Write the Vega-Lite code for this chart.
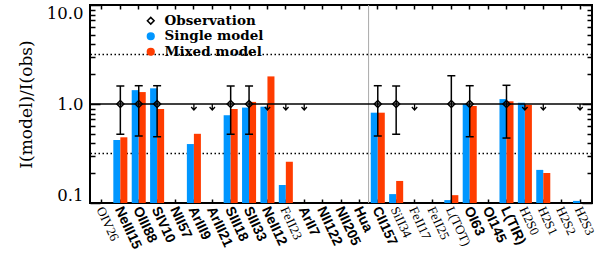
{
  "$schema": "https://vega.github.io/schema/vega-lite/v6.json",
  "width": 502,
  "height": 198,
  "autosize": {"type": "none"},
  "padding": {"left": 90, "top": 5, "right": 7, "bottom": 69},
  "background": "white",
  "datasets": {
    "bars": [
      {"line": "NeIII15", "series": "Single model", "ratio": 0.433},
      {"line": "NeIII15", "series": "Mixed model", "ratio": 0.461},
      {"line": "OIII88", "series": "Single model", "ratio": 1.38},
      {"line": "OIII88", "series": "Mixed model", "ratio": 1.32},
      {"line": "SIV10", "series": "Single model", "ratio": 1.44},
      {"line": "SIV10", "series": "Mixed model", "ratio": 0.89},
      {"line": "ArIII9", "series": "Single model", "ratio": 0.394},
      {"line": "ArIII9", "series": "Mixed model", "ratio": 0.5},
      {"line": "SIII18", "series": "Single model", "ratio": 0.77},
      {"line": "SIII18", "series": "Mixed model", "ratio": 0.89},
      {"line": "SIII33", "series": "Single model", "ratio": 0.92},
      {"line": "SIII33", "series": "Mixed model", "ratio": 1.05},
      {"line": "NeII12", "series": "Single model", "ratio": 0.94},
      {"line": "NeII12", "series": "Mixed model", "ratio": 1.9},
      {"line": "FeII23", "series": "Single model", "ratio": 0.152},
      {"line": "FeII23", "series": "Mixed model", "ratio": 0.261},
      {"line": "CII157", "series": "Single model", "ratio": 0.817},
      {"line": "CII157", "series": "Mixed model", "ratio": 0.817},
      {"line": "SiII34", "series": "Single model", "ratio": 0.123},
      {"line": "SiII34", "series": "Mixed model", "ratio": 0.167},
      {"line": "L(TOT)", "series": "Single model", "ratio": 0.107},
      {"line": "L(TOT)", "series": "Mixed model", "ratio": 0.12},
      {"line": "OI63", "series": "Single model", "ratio": 1.0},
      {"line": "OI63", "series": "Mixed model", "ratio": 0.955},
      {"line": "L(TIR)", "series": "Single model", "ratio": 1.12},
      {"line": "L(TIR)", "series": "Mixed model", "ratio": 1.065},
      {"line": "H2S0", "series": "Single model", "ratio": 1.03},
      {"line": "H2S0", "series": "Mixed model", "ratio": 0.977},
      {"line": "H2S1", "series": "Single model", "ratio": 0.216},
      {"line": "H2S1", "series": "Mixed model", "ratio": 0.201},
      {"line": "H2S3", "series": "Single model", "ratio": 0.105}
    ],
    "obs": [
      {"line": "NeIII15", "series": "Observation", "ratio": 1, "lo": 0.495, "hi": 1.52},
      {"line": "OIII88", "series": "Observation", "ratio": 1, "lo": 0.475, "hi": 1.53},
      {"line": "SIV10", "series": "Observation", "ratio": 1, "lo": 0.467, "hi": 1.53},
      {"line": "SIII18", "series": "Observation", "ratio": 1, "lo": 0.495, "hi": 1.52},
      {"line": "SIII33", "series": "Observation", "ratio": 1, "lo": 0.495, "hi": 1.52},
      {"line": "CII157", "series": "Observation", "ratio": 1, "lo": 0.475, "hi": 1.53},
      {"line": "SiII34", "series": "Observation", "ratio": 1, "lo": 0.495, "hi": 1.52},
      {"line": "L(TOT)", "series": "Observation", "ratio": 1, "lo": 0.05, "hi": 1.93},
      {"line": "OI63", "series": "Observation", "ratio": 1, "lo": 0.467, "hi": 1.53},
      {"line": "L(TIR)", "series": "Observation", "ratio": 1, "lo": 0.453, "hi": 1.545}
    ],
    "ul": [
      {"line": "ArIII9", "ratio": 1},
      {"line": "ArIII21", "ratio": 1},
      {"line": "NeII12", "ratio": 1},
      {"line": "FeII23", "ratio": 1},
      {"line": "ArII7", "ratio": 1},
      {"line": "FeII17", "ratio": 1},
      {"line": "H2S0", "ratio": 1},
      {"line": "H2S1", "ratio": 1},
      {"line": "H2S3", "ratio": 1}
    ]
  },
  "layer": [
    {
      "data": {"values": [{}]},
      "mark": {"type": "rule", "strokeDash": [1.5, 2.5], "strokeWidth": 1.5, "color": "black"},
      "encoding": {
        "y": {
          "datum": 3.162, "type": "quantitative",
          "scale": {"type": "log", "domain": [0.1, 10], "nice": false},
          "axis": {
            "orient": "left", "values": [0.1, 1, 10],
            "labelExpr": "datum.value < 0.5 ? '0.1' : datum.value < 5 ? '1.0' : '10.0'",
            "tickSize": -10, "tickWidth": 1.5, "tickColor": "black", "domain": false, "grid": false,
            "labelFont": "DejaVu Serif", "labelFontSize": 16.5, "labelColor": "black", "labelPadding": 17,
            "labelFlush": true,
            "title": "I(model)/I(obs)", "titleFont": "DejaVu Serif", "titleFontSize": 17,
            "titleFontWeight": "normal", "titleColor": "black", "titlePadding": 11
          }
        }
      }
    },
    {
      "data": {"values": [{}]},
      "mark": {"type": "rule", "strokeDash": [1.5, 2.5], "strokeWidth": 1.5, "color": "black"},
      "encoding": {
        "y": {
          "datum": 0.3162, "type": "quantitative",
          "scale": {"type": "log", "domain": [0.1, 10], "nice": false},
          "axis": {"orient": "right", "values": [0.1, 1, 10], "labels": false, "tickSize": -10,
            "tickWidth": 1.5, "tickColor": "black", "domain": false, "grid": false, "title": null}
        }
      }
    },
    {
      "data": {"values": [{}]},
      "mark": {"type": "rule", "color": "#aaaaaa", "strokeWidth": 1},
      "encoding": {
        "x": {
          "datum": "CII157", "type": "nominal", "bandPosition": 0,
          "scale": {"type": "band", "domain": ["OIV26","NeIII15","OIII88","SIV10","NII57","ArIII9","ArIII21","SIII18","SIII33","NeII12","FeII23","ArII7","NII122","NII205","Hua","CII157","SiII34","FeII17","FeII25","L(TOT)","OI63","OI145","L(TIR)","H2S0","H2S1","H2S2","H2S3"], "paddingInner": 0, "paddingOuter": 0.15},
          "axis": {"orient": "top", "labels": false, "title": null, "tickSize": -4, "tickWidth": 1.5,
            "tickColor": "black", "domain": false, "grid": false}
        }
      }
    },
    {
      "data": {"name": "bars"},
      "mark": {"type": "bar"},
      "encoding": {
        "x": {
          "field": "line", "type": "nominal",
          "scale": {"type": "band", "domain": ["OIV26","NeIII15","OIII88","SIV10","NII57","ArIII9","ArIII21","SIII18","SIII33","NeII12","FeII23","ArII7","NII122","NII205","Hua","CII157","SiII34","FeII17","FeII25","L(TOT)","OI63","OI145","L(TIR)","H2S0","H2S1","H2S2","H2S3"], "paddingInner": 0, "paddingOuter": 0.15},
          "axis": {
            "orient": "bottom", "title": null, "labelAngle": 65, "labelAlign": "left", "labelBaseline": "middle",
            "tickSize": -4, "tickWidth": 1.5, "tickColor": "black", "domain": false, "grid": false,
            "labelPadding": 8, "labelOffset": -2, "labelColor": "black", "labelOverlap": false, "labelBound": false,
            "labelFontSize": {"condition": {"test": "indexof(['OIV26','FeII23','SiII34','FeII17','FeII25','L(TOT)','H2S0','H2S1','H2S2','H2S3'], datum.value) >= 0", "value": 13}, "value": 14},
            "labelFont": {"condition": {"test": "indexof(['OIV26','FeII23','SiII34','FeII17','FeII25','L(TOT)','H2S0','H2S1','H2S2','H2S3'], datum.value) >= 0", "value": "Liberation Serif"}, "value": "Liberation Sans"},
            "labelFontWeight": {"condition": {"test": "indexof(['OIV26','FeII23','SiII34','FeII17','FeII25','L(TOT)','H2S0','H2S1','H2S2','H2S3'], datum.value) >= 0", "value": "normal"}, "value": "bold"}
          }
        },
        "xOffset": {"field": "series", "type": "nominal", "scale": {"domain": ["Single model", "Mixed model"], "paddingInner": 0, "paddingOuter": 0.31}},
        "y": {"field": "ratio", "type": "quantitative", "scale": {"type": "log", "domain": [0.1, 10], "nice": false}, "axis": null},
        "y2": {"datum": 0.1},
        "fill": {"field": "series", "type": "nominal", "scale": {"domain": ["Observation", "Single model", "Mixed model"], "range": ["rgba(0,0,0,0)", "#0096ff", "#ff3c00"]}}
      }
    },
    {
      "data": {"values": [{}]},
      "mark": {"type": "rule", "strokeWidth": 1.5, "color": "black"},
      "encoding": {
        "y": {
          "datum": 1, "type": "quantitative",
          "scale": {"type": "log", "domain": [0.1, 10], "nice": false},
          "axis": {"orient": "left", "values": [0.2,0.3,0.4,0.5,0.6,0.7,0.8,0.9,2,3,4,5,6,7,8,9], "labels": false,
            "tickSize": -5, "tickWidth": 1.5, "tickColor": "black", "domain": false, "grid": false, "title": null}
        }
      }
    },
    {
      "data": {"name": "obs"},
      "mark": {"type": "rule", "strokeWidth": 1.5, "color": "black", "clip": true},
      "encoding": {
        "x": {"field": "line", "type": "nominal", "axis": null},
        "y": {"field": "lo", "type": "quantitative", "scale": {"type": "log", "domain": [0.1, 10], "nice": false}, "axis": null},
        "y2": {"field": "hi"}
      }
    },
    {
      "data": {"name": "obs"},
      "mark": {"type": "tick", "orient": "horizontal", "size": 8, "thickness": 1.5, "color": "black", "opacity": 1, "clip": true},
      "encoding": {
        "x": {"field": "line", "type": "nominal", "axis": null},
        "y": {"field": "lo", "type": "quantitative", "scale": {"type": "log", "domain": [0.1, 10], "nice": false},
          "axis": {"orient": "right", "values": [0.2,0.3,0.4,0.5,0.6,0.7,0.8,0.9,2,3,4,5,6,7,8,9], "labels": false,
            "tickSize": -5, "tickWidth": 1.5, "tickColor": "black", "domain": false, "grid": false, "title": null}}
      }
    },
    {
      "data": {"name": "obs"},
      "mark": {"type": "tick", "orient": "horizontal", "size": 8, "thickness": 1.5, "color": "black", "opacity": 1, "clip": true},
      "encoding": {
        "x": {"field": "line", "type": "nominal", "axis": null},
        "y": {"field": "hi", "type": "quantitative", "scale": {"type": "log", "domain": [0.1, 10], "nice": false}, "axis": null}
      }
    },
    {
      "data": {"name": "obs"},
      "mark": {"type": "point", "filled": true, "size": 50, "strokeWidth": 1.5, "opacity": 1},
      "encoding": {
        "x": {"field": "line", "type": "nominal", "axis": null},
        "y": {"field": "ratio", "type": "quantitative", "scale": {"type": "log", "domain": [0.1, 10], "nice": false}, "axis": null},
        "shape": {"field": "series", "type": "nominal", "scale": {"domain": ["Observation", "Single model", "Mixed model"], "range": ["diamond", "circle", "circle"]}},
        "fill": {"field": "series", "type": "nominal", "scale": {"domain": ["Observation", "Single model", "Mixed model"], "range": ["rgba(0,0,0,0)", "#0096ff", "#ff3c00"]}},
        "stroke": {"field": "series", "type": "nominal", "scale": {"domain": ["Observation", "Single model", "Mixed model"], "range": ["black", "#0096ff", "#ff3c00"]}}
      }
    },
    {
      "data": {"name": "ul"},
      "mark": {"type": "point", "shape": "M0,0L0,1M-0.45,0.5L0,1L0.45,0.5", "size": 144, "filled": false, "stroke": "black", "strokeWidth": 1.3, "opacity": 1},
      "encoding": {
        "x": {"field": "line", "type": "nominal", "axis": null},
        "y": {"field": "ratio", "type": "quantitative", "scale": {"type": "log", "domain": [0.1, 10], "nice": false}, "axis": null}
      }
    }
  ],
  "resolve": {"axis": {"x": "independent", "y": "independent"}},
  "config": {
    "view": {"stroke": "black", "strokeWidth": 2},
    "axis": {"grid": false},
    "legend": {"orient": "none", "legendX": 54, "legendY": 9, "title": null, "labelFont": "DejaVu Serif", "labelFontSize": 13.5, "labelFontWeight": "bold", "labelColor": "black", "symbolSize": 45, "symbolStrokeWidth": 1.5, "rowPadding": 0.5, "labelOffset": 7, "padding": 0, "titlePadding": 0}
  }
}
